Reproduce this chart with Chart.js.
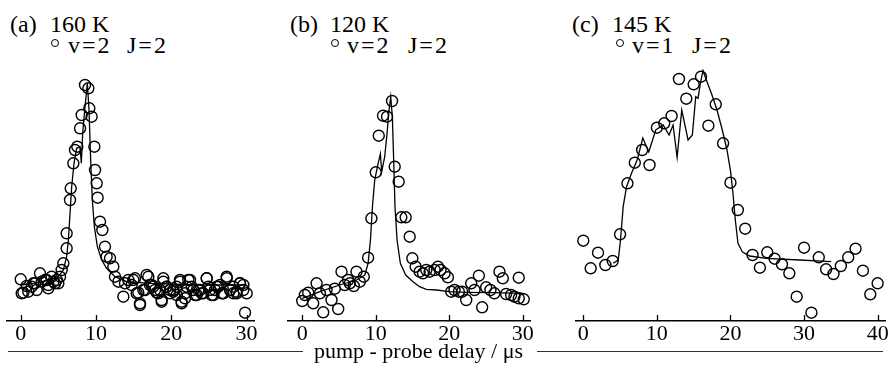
<!DOCTYPE html>
<html>
<head>
<meta charset="utf-8">
<script src="https://cdn.jsdelivr.net/npm/chart.js@4.4.1/dist/chart.umd.min.js"></script>
<style>
  body { margin: 0; width: 889px; height: 386px; background: #fff; position: relative; overflow: hidden;
         font-family: 'Liberation Serif', 'Times New Roman', serif; color: #000; }
  canvas { position: absolute; }
  .lbl { position: absolute; font-size: 22px; line-height: 22px; white-space: pre; }
  .ttl { position: absolute; font-size: 24px; line-height: 24px; white-space: pre; }
  .key { position: absolute; font-size: 24px; line-height: 24px; white-space: pre; letter-spacing: 2px; }
  .dot { position: absolute; width: 6px; height: 6px; border: 1.3px solid #000; border-radius: 50%; }
  .rule { position: absolute; height: 1px; background: #333; top: 351px; }
</style>
</head>
<body>
<div class="ttl" style="left:10px;top:12px">(a)</div>
<div class="ttl" style="left:50px;top:12px">160 K</div>
<div class="dot" style="left:51px;top:39px"></div>
<div class="key" style="left:68px;top:33px">v=2</div>
<div class="key" style="left:127px;top:33px">J=2</div>

<div class="ttl" style="left:290px;top:12px">(b)</div>
<div class="ttl" style="left:330px;top:12px">120 K</div>
<div class="dot" style="left:331px;top:39px"></div>
<div class="key" style="left:347px;top:33px">v=2</div>
<div class="key" style="left:408px;top:33px">J=2</div>

<div class="ttl" style="left:572px;top:12px">(c)</div>
<div class="ttl" style="left:612px;top:12px">145 K</div>
<div class="dot" style="left:616px;top:39px"></div>
<div class="key" style="left:632px;top:33px">v=1</div>
<div class="key" style="left:692px;top:33px">J=2</div>

<canvas id="chartA" width="287" height="311" style="left:-13px;top:40px"></canvas>
<canvas id="chartB" width="282" height="311" style="left:268px;top:40px"></canvas>
<canvas id="chartC" width="349" height="311" style="left:556px;top:40px"></canvas>

<div class="rule" style="left:8px;width:295px"></div>
<div class="lbl" style="left:312px;top:340px;width:213px;text-align:center">pump - probe delay / μs</div>
<div class="rule" style="left:537px;width:346px"></div>

<script>
// (a) 160 K, v=2 J=2
const aTime = [0, 0.35, 0.79, 1.46, 1.9, 2.56, 2.78, 3.23, 3.67, 4.11, 4.33, 4.78, 5.0, 5.22, 5.44, 5.66,
  6.1, 6.1, 6.55, 6.64, 6.99, 7.21, 7.52, 7.88, 8.1, 8.54, 8.98, 9.11, 9.42, 9.78, 9.87, 10.09, 10.22,
  10.53, 10.84, 11.19, 11.41, 11.86, 12.3, 12.52, 12.97, 13.63, 13.85, 14.29, 14.74, 15.18, 15.62, 15.84,
  16.29, 16.73, 17.17, 17.61, 18.06, 18.5, 18.72, 18.94, 19.38, 19.83, 20.27, 20.71, 21.15, 21.37, 21.82,
  22.04, 22.48, 22.93, 23.37, 23.81, 24.25, 24.7, 25.14, 25.58, 26.02, 26.47, 26.91, 27.35, 27.79, 28.24,
  28.68, 29.12, 29.57, 30.01, 29.79,
  0.13, 1.01, 2.12, 3.67, 1.68, 3.45, 4.56,
  14.96, 15.4, 15.84, 16.51, 16.95, 17.4, 17.84, 18.28, 18.72, 18.94, 19.39, 19.83, 20.27, 20.72, 21.16,
  21.38, 21.82, 22.26, 22.71, 23.15, 23.59, 24.04, 24.7, 24.92, 25.37, 25.8, 26.25, 26.69, 27.36, 27.8,
  28.23, 28.68, 29.12, 29.56];
const aSignal = [41.7, 28.3, 35, 34.3, 37.7, 47.7, 39.3, 41, 36, 44.3, 39.3, 41, 37.7, 44.3, 51, 57.7,
  72.7, 87.7, 121, 132.7, 157.7, 171, 174.3, 192.7, 206, 236, 232.7, 212.7, 204.3, 174.3, 151, 137.7, 123.3,
  99.3, 91, 74.3, 64.3, 62.7, 54.3, 44.3, 39.3, 24.3, 37.7, 41, 36, 42.7, 28.3, 17.7,
  31, 46, 36, 34.3, 28.3, 31, 21, 42.7, 34.3, 31, 29.3, 34.3, 41, 19.3, 22.7,
  34.3, 41, 31, 26, 31, 27.7, 42.7, 31, 26, 34.3, 36, 27.7, 44.3, 31, 27.7,
  29.3, 37.7, 36, 27.7, 8.3,
  27.7, 29.3, 31, 32.7, 37.7, 41, 37.7,
  41, 27.7, 16, 31, 44.3, 36, 31, 27.7, 19.3, 39.3, 34.3, 27.7, 31, 26, 39.3,
  17.7, 27.7, 41, 34.3, 26, 31, 27.7, 42.7, 34.3, 26, 31, 34.3, 27.7, 42.7, 31,
  34.3, 27.7, 37.7, 31];
const aFitTime = [0, 1.68, 3.89, 5.0, 5.66, 6.1, 6.33, 6.55, 6.77, 7.08, 7.43, 7.88, 8.05, 8.23, 8.54, 8.85,
  9.07, 9.29, 9.51, 9.78, 10.18, 10.75, 11.41, 12.52, 14.07, 17.17, 23.81, 30];
const aFitSignal = [36, 37.7, 41, 44.3, 51, 64.3, 81, 107.7, 134.3, 157.7, 172.7, 174.3, 157.7, 187.7, 214.3, 237.7,
  211, 161, 121, 94.3, 74.3, 61, 52.7, 44.3, 39.3, 37.7, 36, 36];
const aTicks = [0, 10, 20, 30];

// (b) 120 K, v=2 J=2
const bTime = [0, 0.36, 0.81, 1.49, 1.95, 2.4, 2.85, 3.3, 3.98, 4.43, 4.89, 5.34, 5.79, 6.24, 6.47, 7.01,
  7.38, 7.83, 8.37, 8.96, 9.41, 10.0, 10.41, 10.99, 11.54, 12.22, 12.58, 13.12, 13.48, 14.07, 14.62, 14.98,
  15.43, 15.97, 16.43, 16.88, 17.33, 18.01, 18.46, 18.82, 19.37, 19.82, 20.27, 20.72, 21.31, 21.76, 22.31,
  22.99, 23.44, 24.03, 24.48, 25.02, 25.61, 26.15, 26.83, 27.29, 27.74, 28.42, 28.87, 29.46, 29.46, 30.14];
const bSignal = [20, 26, 28.3, 17.7, 37.7, 27.7, 8.7, 31, 21, 32.3, 12, 49.3, 36, 41, 37.7, 35,
  49.3, 39.3, 44.3, 63.3, 102.7, 148.7, 185.3, 205.3, 204.3, 220, 154.3, 139.3, 103.7, 103.7, 84.3, 62.7,
  54.3, 49.3, 47.7, 51, 49.3, 51, 54.3, 51, 47.7, 43.7, 29.3, 31, 29.3, 29.3, 21,
  37.7, 31, 45.3, 13.7, 33.7, 31, 27.7, 49.3, 42.7, 27, 26, 24.3, 43.3, 22.7, 21.7];
const bFitTime = [0, 2.4, 5.11, 7.38, 8.51, 8.96, 9.28, 9.55, 9.86, 10.32, 10.63, 10.81, 11.22, 11.54, 11.81,
  12.04, 12.26, 12.44, 12.62, 12.9, 13.35, 14.07, 15.07, 15.97, 16.88, 18.24, 20.05, 22.31, 25.93, 30.14];
const bFitSignal = [22.7, 29.3, 36, 41, 46, 57.7, 81, 114.3, 141, 157.7, 167, 149.3, 164.3, 187.7, 211,
  224.3, 204.3, 161, 114.3, 81, 57.7, 46, 39.3, 34.3, 31.7, 31, 29.3, 28.7, 28.3, 27.7];
const bTicks = [0, 10, 20, 30];

// (c) 145 K, v=1 J=2
const cTime = [0, 1, 2, 3, 4, 5, 6, 7, 8, 9, 10, 11, 12, 13, 14, 15, 16, 17, 18, 19, 20,
  21, 22, 23, 24, 25, 26, 27, 28, 29, 30, 31, 32, 33, 34, 35, 36, 37, 38, 39, 40];
const cSignal = [80.3, 52.7, 68.3, 56, 60, 86.7, 137.7, 158.3, 171, 156, 193.3, 197.7, 205, 242, 222.3, 236.7,
  244.3, 195.3, 216.7, 177.7, 138.3, 111, 92.3, 66, 53.3, 68.7, 62.3, 56.7, 47.7, 24.3, 73.3, 8.3,
  63.7, 51.7, 47, 55, 63.7, 72.3, 50.3, 26.7, 37.7];
const cFitTime = [4.07, 4.75, 5.06, 5.42, 5.88, 6.55, 7.32, 8.09, 8.59, 8.9, 9.85, 10.85, 11.66, 12.2, 12.75,
  13.38, 14.24, 14.82, 15.28, 15.59, 15.91, 16.27, 16.81, 17.49, 18.17, 18.89, 19.53, 20.02, 20.34, 20.66,
  21.02, 21.6, 22.6, 24.86, 29.38, 33.67];
const cFitSignal = [57.7, 61, 81, 114.3, 134.3, 147.7, 161, 183, 174.3, 169, 191, 196, 186, 196, 163.7,
  211, 181, 186, 224.3, 222.7, 237.7, 250.3, 239.3, 226, 211, 191, 171, 149.3, 127.7, 101,
  77.7, 69.3, 65, 62.7, 61, 59.3];
const cTicks = [0, 10, 20, 30, 40];

const SERIF = "'Liberation Serif', 'Times New Roman', serif";

// small tick marks pointing up from the axis line
const innerTicks = {
  id: 'innerTicks',
  afterDraw(chart) {
    const xs = chart.scales.x, ctx = chart.ctx, y0 = chart.chartArea.bottom;
    ctx.save();
    ctx.strokeStyle = '#000';
    ctx.lineWidth = 1.3;
    xs.ticks.forEach(t => {
      const px = Math.round(xs.getPixelForValue(t.value)) + 0.5;
      ctx.beginPath();
      ctx.moveTo(px, y0);
      ctx.lineTo(px, y0 - 6);
      ctx.stroke();
    });
    ctx.restore();
  }
};

function pairs(xs, ys) {
  return xs.map((x, i) => ({ x, y: ys[i] }));
}

function makePanel(id, time, signal, fitTime, fitSignal, ticks, xMin, xMax) {
  new Chart(document.getElementById(id), {
    type: 'scatter',
    data: {
      datasets: [
        {
          data: pairs(fitTime, fitSignal), showLine: true, pointRadius: 0,
          borderColor: '#000', borderWidth: 1.3, tension: 0, clip: false,
        },
        {
          data: pairs(time, signal), pointRadius: 5.5, pointStyle: 'circle',
          borderColor: '#000', backgroundColor: 'rgba(0,0,0,0)', borderWidth: 1.4, clip: false,
        },
      ],
    },
    options: {
      responsive: false, animation: false, events: [],
      layout: { padding: { left: 20, right: 20, top: 20, bottom: 0 } },
      plugins: { legend: { display: false }, tooltip: { enabled: false } },
      scales: {
        x: {
          type: 'linear', min: xMin, max: xMax,
          afterBuildTicks: s => { s.ticks = ticks.map(v => ({ value: v })); },
          afterFit: s => { s.height = 30; },
          grid: { display: true, drawOnChartArea: false, drawTicks: false },
          border: { display: true, color: '#000', width: 1.5 },
          ticks: { color: '#000', padding: 0, autoSkip: false, maxRotation: 0,
                   font: { family: SERIF, size: 22 } },
        },
        y: { display: false, min: 0, max: 261 },
      },
    },
    plugins: [innerTicks],
  });
}

makePanel('chartA', aTime, aSignal, aFitTime, aFitSignal, aTicks, -1.82, 30.98);
makePanel('chartB', bTime, bSignal, bFitTime, bFitSignal, bTicks, -1.94, 30.99);
makePanel('chartC', cTime, cSignal, cFitTime, cFitSignal, cTicks, -0.99, 41.0);
</script>
</body>
</html>
